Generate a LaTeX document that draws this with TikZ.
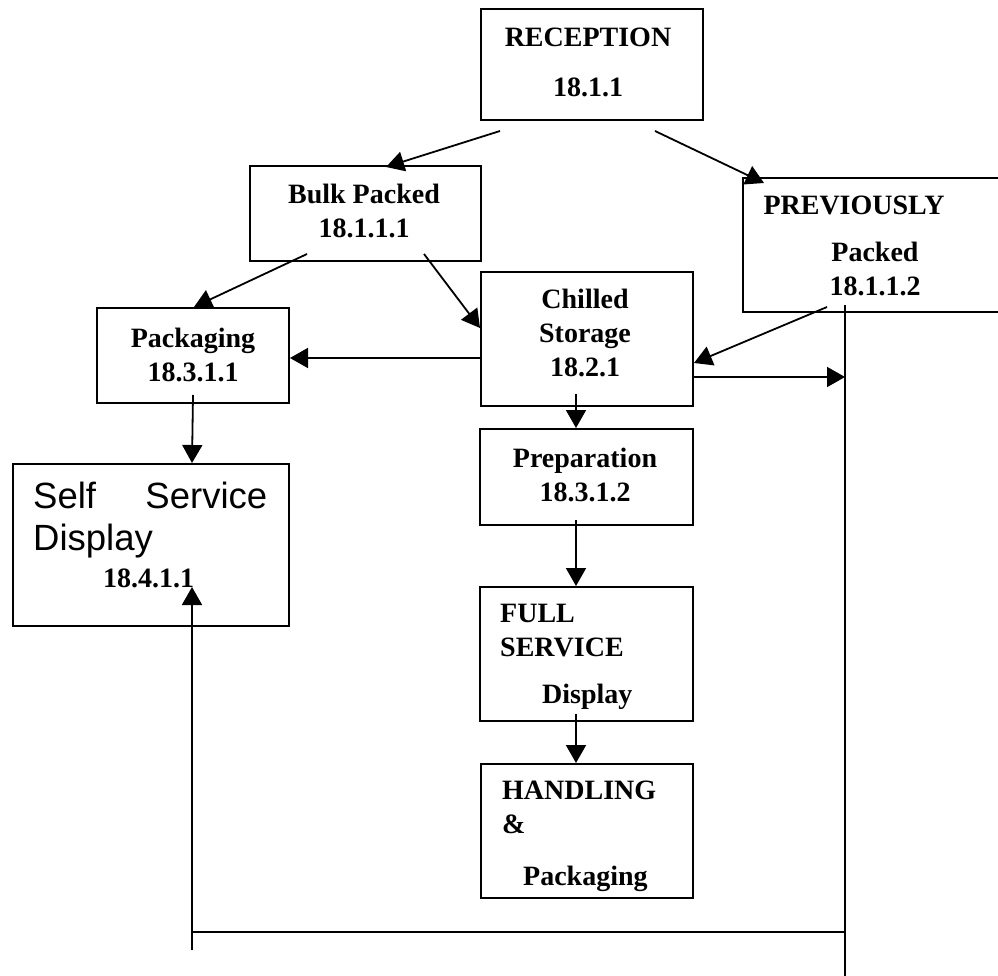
\documentclass[tikz,border=0pt]{standalone}
\usepackage{fontspec}
\setmainfont{Liberation Serif}
\newfontfamily\arialfont{Liberation Sans}
\usetikzlibrary{arrows.meta, calc}

\begin{document}
\begin{tikzpicture}[
      x=1pt, y=-1pt,
      proc/.style = {draw, line width=2pt, anchor=north west, inner sep=0pt},
      txt/.style  = {inner sep=0pt, align=center, anchor=north,
                     font=\bfseries\fontsize{28}{34}\selectfont},
      link/.style = {line width=1.8pt},
      arr/.style  = {-{Triangle[length=18pt, width=20pt]}, line width=1.8pt},
    ]

    \useasboundingbox[fill=white] (0,0) rectangle (998,976);
    \clip (0,0) rectangle (998,976);

    % boxes
    \node[proc, minimum width=222pt, minimum height=111pt] (recep) at (480,8)   {};
    \node[proc, minimum width=231pt, minimum height=95pt]  (bulk)  at (249,165) {};
    \node[proc, minimum width=280pt, minimum height=134pt] (prev)  at (742,177) {};
    \node[proc, minimum width=212pt, minimum height=134pt] (chill) at (480,271) {};
    \node[proc, minimum width=192pt, minimum height=95pt]  (pack)  at (96,307)  {};
    \node[proc, minimum width=213pt, minimum height=96pt]  (prep)  at (479,428) {};
    \node[proc, minimum width=213pt, minimum height=134pt] (full)  at (479,586) {};
    \node[proc, minimum width=212pt, minimum height=134pt] (hand)  at (480,763) {};
    \node[proc, minimum width=276pt, minimum height=162pt] (self)  at (12,463)  {};

    % texts
    \node[txt] (recep-t) at (588,28)  {RECEPTION\\[16pt]18.1.1};
    \node[txt] (bulk-t)  at (364,184) {Bulk Packed\\18.1.1.1};
    \node[txt] (prev-t)  at (875,196) {PREVIOUSLY\hspace*{42pt}\\[13pt]Packed\\18.1.1.2};
    \node[txt] (chill-t) at (585,289) {Chilled\\Storage\\18.2.1};
    \node[txt] (pack-t)  at (193,328) {Packaging\\18.3.1.1};
    \node[txt] (prep-t)  at (585,448) {Preparation\\18.3.1.2};
    \node[txt, align=left, anchor=north west] (full-t) at (500,604)
      {FULL\\SERVICE\\[13pt]\hspace*{42pt}Display};
    \node[txt, align=left, anchor=north west] (hand-t) at (502,781)
      {HANDLING\\\&\\[18pt]\hspace*{21pt}Packaging};
    \node[txt, align=left, anchor=north west, text width=234pt,
          font=\arialfont\fontsize{36.5}{42}\selectfont] (self-t) at (33,482)
      {Self\hfill Service\\Display\\[-5pt]\hspace*{70pt}{\rmfamily\bfseries\fontsize{28}{34}\selectfont 18.4.1.1}};

    % loop back to self service
    \coordinate (rtop) at (845,305);
    \coordinate (rbot) at (845,976);
    \coordinate (hl)   at (192,932);
    \coordinate (hr)   at (846,932);
    \coordinate (lbot) at (192,950);

    \draw[arr] ($(recep.south west)+(20,10)$)  -- ($(bulk.north west)+(137,2)$);
    \draw[arr] ($(recep.south east)+(-49,10)$) -- ($(prev.north west)+(22,6)$);
    \draw[arr] ($(bulk.south west)+(58,-8)$)   -- ($(pack.north)+(1,0)$);
    \draw[arr] ($(bulk.south east)+(-58,-8)$)  -- ($(chill.north west)+(0,57)$);
    \draw[arr] ($(prev.south west)+(85,-6)$)   -- ($(chill.north east)+(0,92)$);
    \draw[arr] ($(chill.north west)+(0,87)$)   -- ($(pack.north east)+(0,51)$);
    \draw[arr] ($(chill.north east)+(0,106)$) coordinate (cs) -- (cs -| rtop);
    \draw[arr] ($(chill.south west)+(96,-13)$) -- ($(prep.north west)+(97,0)$);
    \draw[arr] ($(prep.south west)+(97,-6)$)   -- ($(full.north west)+(97,0)$);
    \draw[arr] ($(full.south west)+(97,-8)$)   -- ($(hand.north west)+(96,0)$);
    \draw[arr] ($(pack.south)+(0,-9)$)         -- ($(self.north west)+(180,0)$);

    \draw[link] (rtop) -- (rbot);
    \draw[link] (hl) -- (hr);
    \draw[arr]  (lbot) -- ($(self.north west)+(180,124)$);

  \end{tikzpicture}
\end{document}
